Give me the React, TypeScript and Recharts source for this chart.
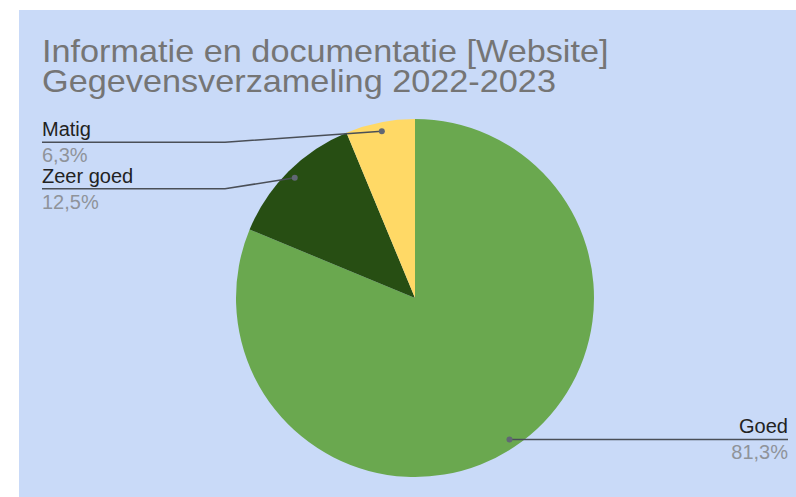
import React from 'react'
import { PieChart, Pie, Cell } from 'recharts'

const categories = ['Goed', 'Zeer goed', 'Matig']
const counts = [13, 2, 1]
const sliceColors = ['#6aa84f', '#274e13', '#ffd966']
const titleLines = ['Informatie en documentatie [Website]', 'Gegevensverzameling 2022-2023']

const data = categories.map((name, i) => ({ name, value: counts[i] }))

const RAD = Math.PI / 180
const FONT = '"Liberation Sans", Arial, sans-serif'

const renderLabel = (props: any) => {
  const { cx, cy, midAngle, outerRadius, name, percent } = props
  const r = outerRadius * 0.95
  const dx = cx + r * Math.cos(-midAngle * RAD)
  const dy = cy + r * Math.sin(-midAngle * RAD)
  const left = dx < cx
  const pct = (percent * 100).toFixed(1).replace('.', ',') + '%'
  const lineY = left ? dy + 11 : dy
  const endX = left ? 23 : 769
  const path = left
    ? `M${dx},${dy} L206,${lineY} L${endX},${lineY}`
    : `M${dx},${dy} L${endX},${lineY}`
  const anchor = left ? 'start' : 'end'
  return (
    <g>
      <path d={path} stroke="#4a4f57" strokeWidth={1.5} fill="none" />
      <circle cx={dx} cy={dy} r={3} fill="#616774" />
      <text x={endX} y={lineY - 6} textAnchor={anchor} fontSize={20} fontFamily={FONT} fill="#222222">
        {name}
      </text>
      <text x={endX} y={lineY + 20} textAnchor={anchor} fontSize={20} fontFamily={FONT} fill="#8f939a">
        {pct}
      </text>
    </g>
  )
}

export default function App() {
  return (
    <div style={{ position: 'absolute', left: 0, top: 0, width: 796, height: 497, background: '#ffffff' }}>
      <div style={{ position: 'absolute', left: 19, top: 10, width: 777, height: 487, background: '#c9daf8' }}>
        <PieChart width={777} height={487}>
          <Pie
            data={data}
            dataKey="value"
            nameKey="name"
            cx={391}
            cy={283}
            outerRadius={179}
            startAngle={90}
            endAngle={-270}
            stroke="none"
            label={renderLabel}
            labelLine={false}
            isAnimationActive={false}
          >
            {data.map((d, i) => (
              <Cell key={d.name} fill={sliceColors[i]} />
            ))}
          </Pie>
        </PieChart>
        <div
          style={{
            position: 'absolute',
            left: 23,
            top: 26,
            fontFamily: FONT,
            fontSize: 32,
            lineHeight: '30px',
            color: '#757575',
            whiteSpace: 'nowrap',
            transform: 'scaleX(1.07)',
            transformOrigin: 'left top',
          }}
        >
          {titleLines.map((t) => (
            <div key={t}>{t}</div>
          ))}
        </div>
      </div>
    </div>
  )
}
